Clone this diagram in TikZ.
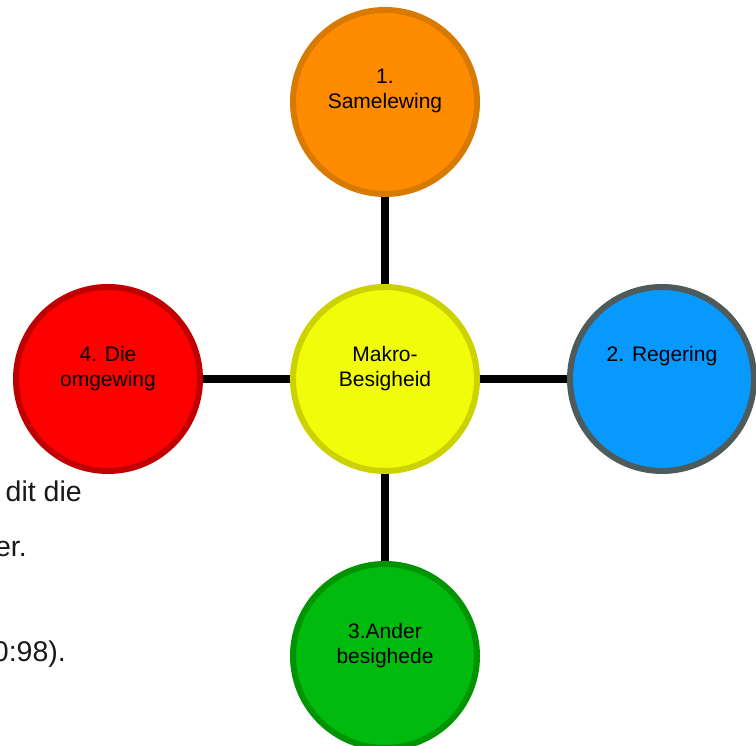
\documentclass[tikz,border=0pt]{standalone}
\usepackage{fontspec}
\setmainfont{Liberation Sans}
\definecolor{yellowfill}{HTML}{F0FC0A}
\definecolor{yellowline}{HTML}{CCD200}
\definecolor{orangefill}{HTML}{FF8C00}
\definecolor{orangeline}{HTML}{D97A00}
\definecolor{bluefill}{HTML}{0899FF}
\definecolor{blueline}{HTML}{4F5A5A}
\definecolor{greenfill}{HTML}{00BB0E}
\definecolor{greenline}{HTML}{009500}
\definecolor{redfill}{HTML}{FF0000}
\definecolor{redline}{HTML}{C00000}
\usetikzlibrary{positioning}
\tikzset{
  pcircle/.style={circle, line width=6pt, minimum size=184pt, inner sep=0pt},
  ptext/.style={anchor=north, inner sep=0pt, align=center, text=black,
    font=\fontsize{21}{25}\selectfont, yshift=33pt},
  plink/.style={line width=7.5pt, black},
  pbody/.style={anchor=base east, inner sep=0pt, text=black!90,
    font=\fontsize{28.5}{32}\selectfont}
}
\begin{document}
\begin{tikzpicture}[node distance=87pt]
  \useasboundingbox (0,0) rectangle (756pt,746pt);
  \clip (0,0) rectangle (756pt,746pt);
  % text of the page behind the figure
  \node[pbody] (body1) at (82pt,244pt) {dit die};
  \node[pbody] (body2) at (27pt,189pt) {er.};
  \node[pbody] (body3) at (66pt,84pt) {0:98).};
  % circles
  \node[pcircle,fill=yellowfill,draw=yellowline] (macro) at (385pt,367pt) {};
  \node[pcircle,fill=orangefill,draw=orangeline,above=of macro] (society) {};
  \node[pcircle,fill=bluefill,draw=blueline,right=of macro] (government) {};
  \node[pcircle,fill=greenfill,draw=greenline,below=of macro] (business) {};
  \node[pcircle,fill=redfill,draw=redline,left=of macro] (environment) {};
  \draw[plink](macro)--(society);\draw[plink](macro)--(government);
  \draw[plink](macro)--(business);\draw[plink](macro)--(environment);
  % labels
  \node[ptext] (macro-t) at (macro.center) {Makro-\\Besigheid};
  \node[ptext] (society-t) at (society.center) {1.\\Samelewing};
  \node[ptext] (government-t) at (government.center) {2. Regering};
  \node[ptext] (business-t) at (business.center) {3.Ander\\besighede};
  \node[ptext] (environment-t) at (environment.center) {4. Die\\omgewing};
\end{tikzpicture}
\end{document}
